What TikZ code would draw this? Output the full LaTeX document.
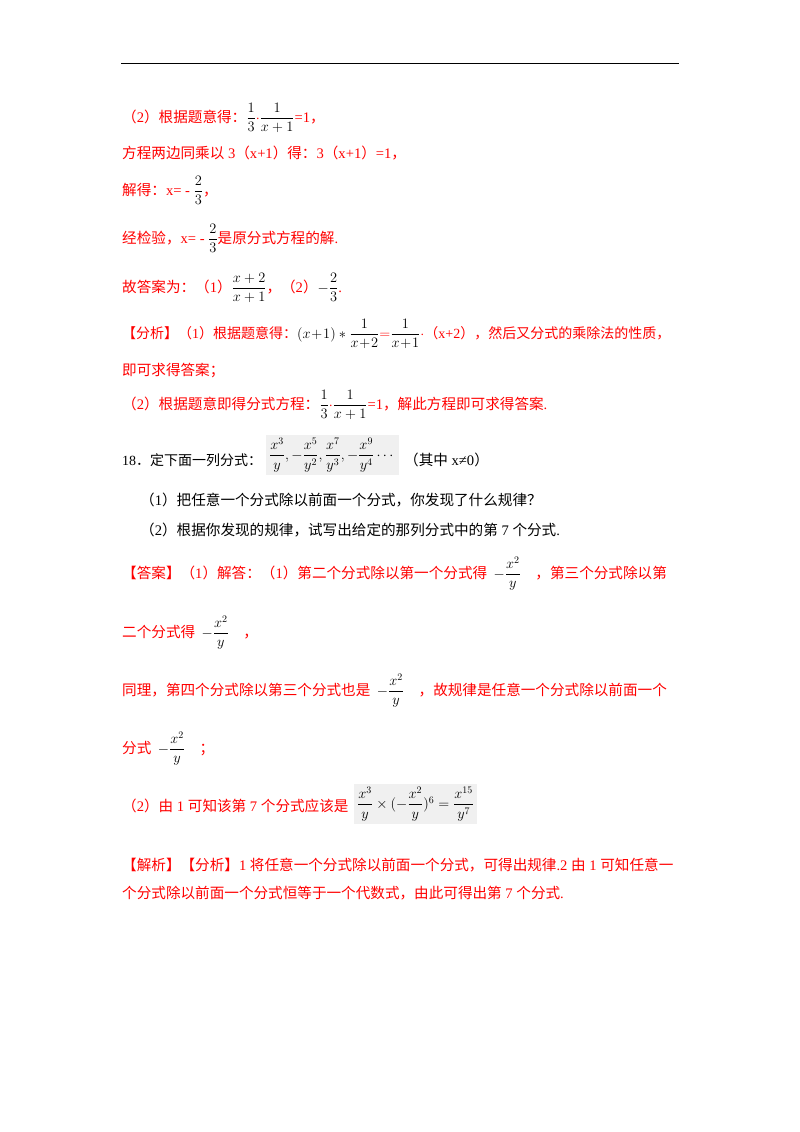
\documentclass[tikz,border=0pt]{standalone}
\usepackage{amsmath}
\usepackage{fontspec}
\setmainfont{Noto Sans CJK SC}
\newfontfamily\tm{Liberation Serif}
\newcommand{\T}[1]{{\tm #1}}
\newcommand{\bm}[1]{\textcolor{black}{$#1$}}
\begin{document}
\begin{tikzpicture}[x=1pt,y=-1pt,
  ln/.style={anchor=base west,inner sep=0pt,font=\fontsize{14.6}{16}\selectfont,text=red},
  bk/.style={ln,text=black},
  bx/.style={fill=black!6,inner sep=3pt,font=\fontsize{14}{16}\selectfont}]
\useasboundingbox[fill=white] (0,0) rectangle (800,1132);
\draw[line width=0.8pt] (121,63) coordinate (r1) -- (679,63) coordinate (r2);
\node[ln] (l1) at (122,122) {（\T{2}）根据题意得：\bm{\dfrac{1}{3}}$\cdot$\bm{\dfrac{1}{x+1}}\T{=1}，};
\node[ln] (l2) at (122,158) {方程两边同乘以\T{ 3}（\T{x+1}）得：\T{3}（\T{x+1}）\T{=1}，};
\node[ln] (l3) at (122,195) {解得：\T{x= - }\bm{\dfrac{2}{3}}，};
\node[ln] (l4) at (122,243) {经检验，\T{x= - }\bm{\dfrac{2}{3}}是原分式方程的解\T{.}};
\node[ln] (l5) at (122,292) {故答案为：（\T{1}）\bm{\dfrac{x+2}{x+1}}，（\T{2}）\bm{-\dfrac{2}{3}}\T{.}};
\node[ln,font=\fontsize{14}{16}\selectfont] (l6) at (122,338) {【分析】（\T{1}）根据题意得：\bm{(x\!+\!1)*\dfrac{1}{x\!+\!2}}$=$\bm{\dfrac{1}{x\!+\!1}}$\cdot$（\T{x+2}），然后又分式的乘除法的性质，};
\node[ln] (l7) at (122,375) {即可求得答案；};
\node[ln] (l8) at (122,409) {（\T{2}）根据题意即得分式方程：\bm{\dfrac{1}{3}}$\cdot$\bm{\dfrac{1}{x+1}}\T{=1}，解此方程即可求得答案\T{.}};
\node[bk,font=\fontsize{14}{16}\selectfont] (q1) at (122,465) {\T{18}．定下面一列分式：};
\node[bx,anchor=west] (f1) at (266,455) {$\dfrac{x^3}{y},-\dfrac{x^5}{y^2},\dfrac{x^7}{y^3},-\dfrac{x^9}{y^4}\cdots$};
\node[bk] (q2) at (404,465) {（其中\T{ x≠0}）};
\node[bk] (q3) at (140,505) {（\T{1}）把任意一个分式除以前面一个分式，你发现了什么规律？};
\node[bk] (q4) at (140,535) {（\T{2}）根据你发现的规律，试写出给定的那列分式中的第\T{ 7 }个分式\T{.}};
\node[ln] (a1) at (122,578) {【答案】（\T{1}）解答：（\T{1}）第二个分式除以第一个分式得\ \ \bm{-\dfrac{x^2}{y}}\quad ，第三个分式除以第};
\node[ln] (a2) at (122,637) {二个分式得\ \ \bm{-\dfrac{x^2}{y}}\quad ，};
\node[ln] (a3) at (122,695) {同理，第四个分式除以第三个分式也是\ \ \bm{-\dfrac{x^2}{y}}\quad ，故规律是任意一个分式除以前面一个};
\node[ln] (a4) at (122,753) {分式\ \ \bm{-\dfrac{x^2}{y}}\quad ；};
\node[ln] (a5) at (122,811) {（\T{2}）由\T{ 1 }可知该第\T{ 7 }个分式应该是};
\node[bx,anchor=west] (f2) at (354,804) {$\dfrac{x^3}{y}\times(-\dfrac{x^2}{y})^6=\dfrac{x^{15}}{y^7}$};
\node[ln] (a6) at (122,870) {【解析】【分析】\T{1 }将任意一个分式除以前面一个分式，可得出规律\T{.2 }由\T{ 1 }可知任意一};
\node[ln] (a7) at (122,898) {个分式除以前面一个分式恒等于一个代数式，由此可得出第\T{ 7 }个分式\T{.}};
\end{tikzpicture}
\end{document}
